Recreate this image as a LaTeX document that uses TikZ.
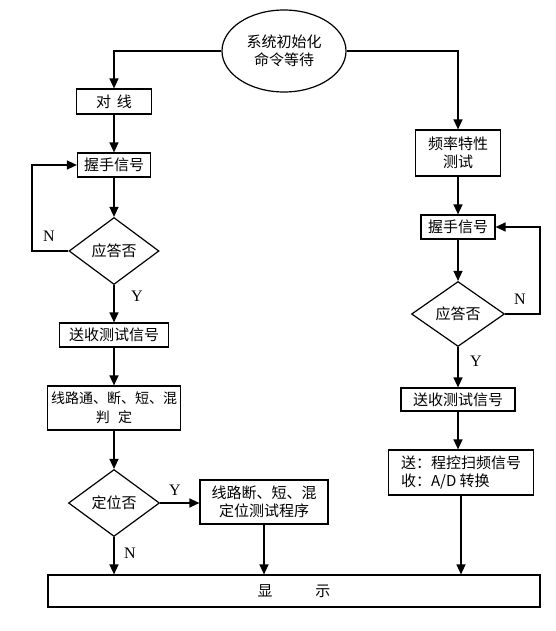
\documentclass[tikz,border=0pt]{standalone}
\usepackage{fontspec}
\setmainfont{Liberation Serif}
\newfontfamily\cjk{Noto Sans CJK SC}
\usetikzlibrary{shapes.geometric,arrows.meta}
\begin{document}
\begin{tikzpicture}[x=1pt,y=-1pt,
  box/.style={draw,line width=1.2pt,inner sep=0pt,font=\cjk\fontsize{15}{18}\selectfont,align=center},
  dia/.style={draw,diamond,line width=1.2pt,inner sep=0pt,font=\cjk\fontsize{15}{18}\selectfont},
  conn/.style={line width=1.4pt,-{Triangle[length=10pt,width=9pt]}},
  lbl/.style={font=\fontsize{16}{16}\selectfont,inner sep=0pt}]
\useasboundingbox (0,0) rectangle (556,631);
% nodes
\node[draw,ellipse,line width=1.2pt,minimum width=124pt,minimum height=82pt,inner sep=0pt,align=center,font=\cjk\fontsize{15}{18}\selectfont] (init) at (284,51) {系统初始化\\命令等待};
\node[box,minimum width=75pt,minimum height=25pt] (dx) at (114,101.5) {对\hspace{0.4em}线};
\node[box,minimum width=73pt,minimum height=24pt] (hs1) at (114,165) {握手信号};
\node[dia,minimum width=90pt,minimum height=67pt] (q1) at (114,251) {应答否};
\node[box,minimum width=109pt,minimum height=24pt] (ss1) at (114,335) {送收测试信号};
\node[box,minimum width=133pt,minimum height=44pt,font=\cjk\fontsize{14}{19}\selectfont] (pd) at (114,408) {线路通、断、短、混\\判\hspace{0.6em}定};
\node[dia,minimum width=91pt,minimum height=67pt] (q2) at (114,503) {定位否};
\node[box,minimum width=128pt,minimum height=44pt] (dw) at (264,502) {线路断、短、混\\定位测试程序};
\node[box,minimum width=492pt,minimum height=32pt] (disp) at (294,591) {显\hspace{43pt}示};
\node[box,minimum width=85pt,minimum height=46pt] (pl) at (458,153) {频率特性\\测试};
\node[box,minimum width=74pt,minimum height=24pt] (hs2) at (458,227) {握手信号};
\node[dia,minimum width=93pt,minimum height=65pt] (q3) at (458,314) {应答否};
\node[box,minimum width=114pt,minimum height=23pt] (ss2) at (458,399.5) {送收测试信号};
\node[box,minimum width=145pt,minimum height=45pt,align=left] (sc) at (461,472.5) {送：程控扫频信号\\收：A/D 转换};
\coordinate (l1) at (32,251);
\coordinate (l2) at (540,314);
% connectors
\draw[conn] (init.west) -| (dx.north);
\draw[conn] (init.east) -| (pl.north);
\draw[conn] (dx) -- (hs1);
\draw[conn] (hs1) -- (q1);
\draw[conn] (q1.west) -- (l1) |- (hs1.west);
\draw[conn] (q1) -- (ss1);
\draw[conn] (ss1) -- (pd);
\draw[conn] (pd) -- (q2);
\draw[conn] (q2.east) -- (q2.east -| dw.west);
\draw[conn] (q2.south) -- (q2.south |- disp.north);
\draw[conn] (dw.south) -- (dw.south |- disp.north);
\draw[conn] (pl) -- (hs2);
\draw[conn] (hs2) -- (q3);
\draw[conn] (q3.east) -- (l2) |- (hs2.east);
\draw[conn] (q3) -- (ss2);
\draw[conn] (ss2.south) -- (ss2.south |- sc.north);
\draw[conn] (sc.south) -- (sc.south |- disp.north);
% labels
\node[lbl] (n1) at (49,236) {N};
\node[lbl] (y1) at (137,296) {Y};
\node[lbl] (y2) at (175,490) {Y};
\node[lbl] (n2) at (130,553) {N};
\node[lbl] (n3) at (520,299) {N};
\node[lbl] (y3) at (476,361) {Y};
\end{tikzpicture}
\end{document}
